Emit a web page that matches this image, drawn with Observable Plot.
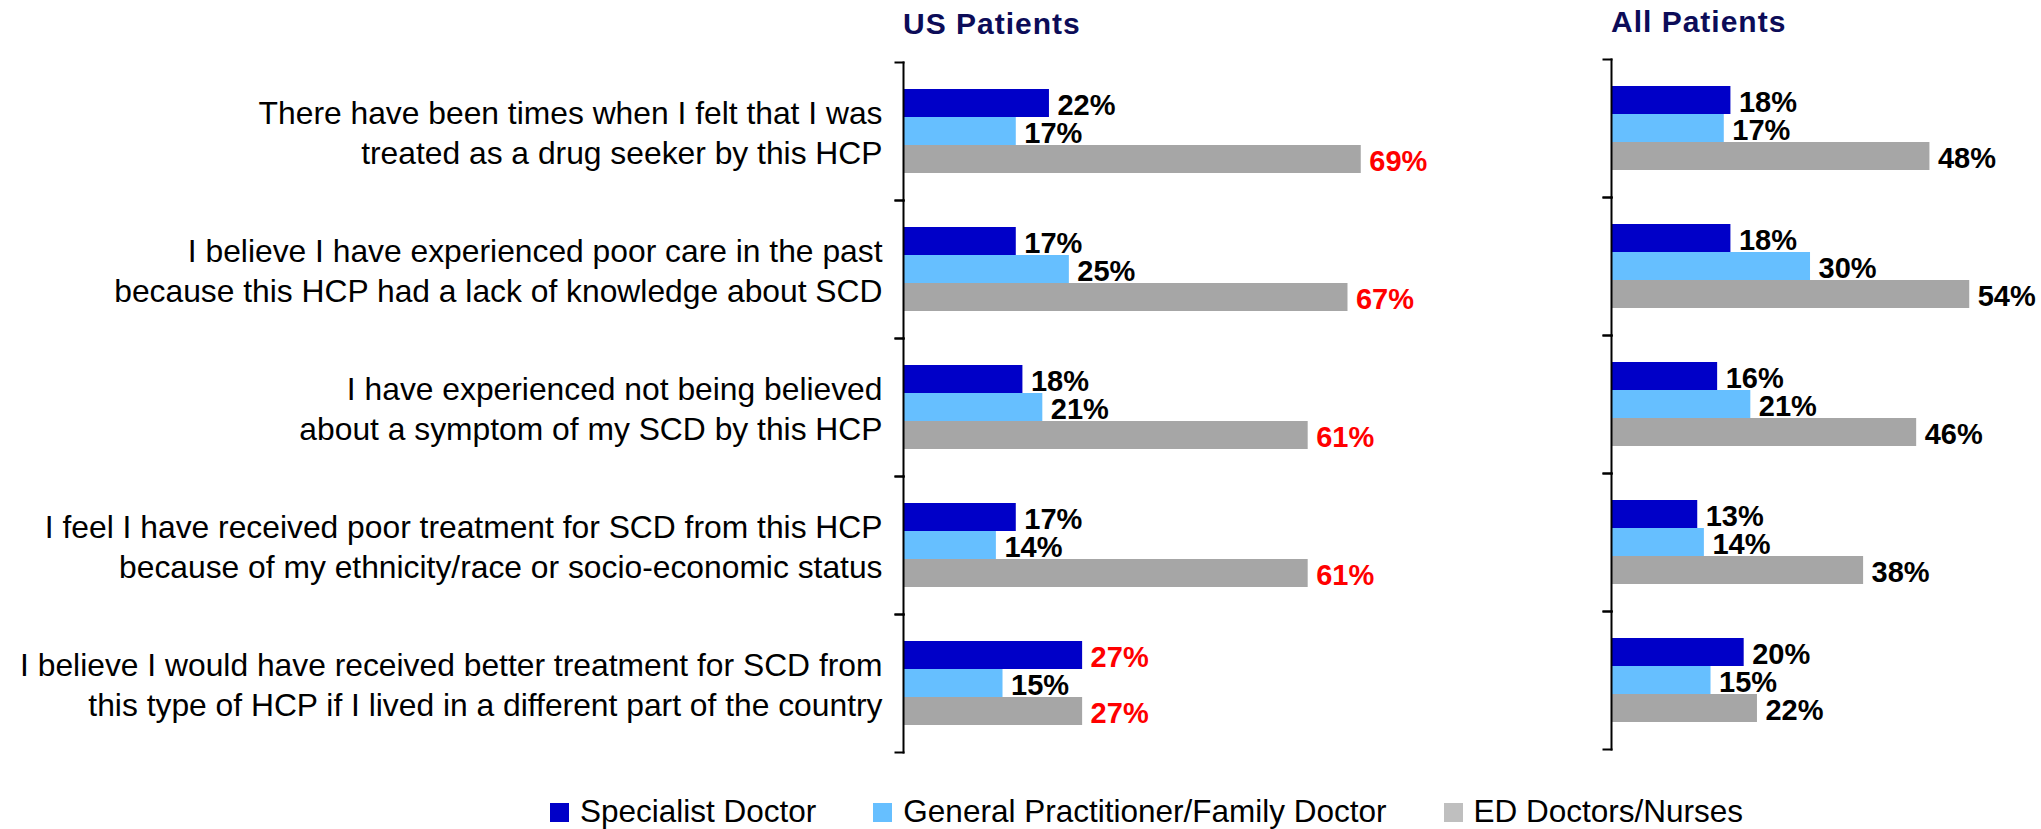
<!DOCTYPE html>
<html><head><meta charset="utf-8">
<script src="https://cdn.jsdelivr.net/npm/d3@7"></script>
<script src="https://cdn.jsdelivr.net/npm/@observablehq/plot@0.6"></script>
<style>
body{margin:0;background:#fff;font-family:"Liberation Sans",Arial,sans-serif;}
#wrap{position:relative;width:2041px;height:829px;overflow:hidden;background:#fff;}
.title{position:absolute;font-weight:bold;font-size:30px;letter-spacing:1px;color:#0C0C58;line-height:30px;white-space:nowrap;}
.chart{position:absolute;}
#legend{position:absolute;left:550px;top:796px;display:flex;gap:57px;font-size:31.5px;line-height:1;white-space:nowrap;color:#000;}
.sw{display:inline-block;width:19px;height:19px;margin-right:11px;vertical-align:baseline;}
</style></head>
<body>
<div id="wrap">
  <div class="title" style="left:903px;top:9px;">US Patients</div>
  <div class="title" style="left:1611px;top:7px;">All Patients</div>
  <div class="chart" id="c1" style="left:0;top:0;"></div>
  <div class="chart" id="c2" style="left:1591px;top:-3px;"></div>
  <div id="legend"></div>
</div>
<script>
const categories = [
  "There have been times when I felt that I was\ntreated as a drug seeker by this HCP",
  "I believe I have experienced poor care in the past\nbecause this HCP had a lack of knowledge about SCD",
  "I have experienced not being believed\nabout a symptom of my SCD by this HCP",
  "I feel I have received poor treatment for SCD from this HCP\nbecause of my ethnicity/race or socio-economic status",
  "I believe I would have received better treatment for SCD from\nthis type of HCP if I lived in a different part of the country"
];
const series = ["Specialist Doctor", "General Practitioner/Family Doctor", "ED Doctors/Nurses"];
const colors = ["#0000C8", "#66BFFF", "#A6A6A6"];
const legendColors = ["#0000C8", "#66BFFF", "#BFBFBF"];

const usSpecialist = [22, 17, 18, 17, 27];
const usGP         = [17, 25, 21, 14, 15];
const usED         = [69, 67, 61, 61, 27];

const allSpecialist = [18, 18, 16, 13, 20];
const allGP         = [17, 30, 21, 14, 15];
const allED         = [48, 54, 46, 38, 22];

const FONT = '"Liberation Sans", Arial, sans-serif';
const PX_PER_PCT = 544 / 82;

function buildRows(cols, highlightMax) {
  const rows = [];
  categories.forEach((c, i) => {
    const vals = cols.map(col => col[i]);
    const mx = d3.max(vals);
    series.forEach((s, j) => {
      rows.push({cat: c, series: s, value: vals[j], hi: highlightMax && vals[j] === mx});
    });
  });
  return rows;
}

function makeChart(rows, {width, marginLeft, marginRight, showLabels}) {
  const innerW = width - marginLeft - marginRight;
  const xmax = innerW / PX_PER_PCT;
  const frameTick = {stroke: "#000", strokeWidth: 2, insetLeft: -8, insetRight: innerW};
  return Plot.plot({
    width, height: 780,
    marginTop: 60, marginBottom: 26, marginLeft, marginRight,
    x: {domain: [0, xmax], axis: null},
    y: {domain: series, axis: null, paddingInner: 0, paddingOuter: 0.893},
    fy: {domain: categories, padding: 0, axis: null},
    color: {domain: series, range: colors},
    style: {fontFamily: FONT, background: "transparent", overflow: "visible", color: "#000"},
    marks: [
      Plot.barX(rows, {x: "value", y: "series", fy: "cat", fill: "series"}),
      Plot.text(rows.filter(d => !d.hi), {x: "value", y: "series", fy: "cat", text: d => d.value + "%",
        dx: 8, dy: 2, textAnchor: "start", fontWeight: "bold", fontSize: 29, fill: "#000"}),
      Plot.text(rows.filter(d => d.hi), {x: "value", y: "series", fy: "cat", text: d => d.value + "%",
        dx: 8, dy: 2, textAnchor: "start", fontWeight: "bold", fontSize: 29, fill: "#FF0000"}),
      Plot.frame({anchor: "left", stroke: "#000", strokeWidth: 2}),
      Plot.frame({anchor: "top", ...frameTick}),
      Plot.frame({anchor: "bottom", ...frameTick}),
      showLabels ? Plot.axisFy({anchor: "left", tickSize: 0, tickPadding: 21, fontSize: 31.8,
        lineHeight: 1.25, fill: "#000", label: null}) : null
    ]
  });
}

const c1 = makeChart(buildRows([usSpecialist, usGP, usED], true),
  {width: 1450, marginLeft: 903, marginRight: 3, showLabels: true});
const c2 = makeChart(buildRows([allSpecialist, allGP, allED], false),
  {width: 450, marginLeft: 20, marginRight: 0, showLabels: false});
document.getElementById("c1").appendChild(c1);
document.getElementById("c2").appendChild(c2);

const legend = document.getElementById("legend");
series.forEach((s, i) => {
  const item = document.createElement("div");
  const sw = document.createElement("span");
  sw.className = "sw";
  sw.style.background = legendColors[i];
  item.appendChild(sw);
  item.appendChild(document.createTextNode(s));
  legend.appendChild(item);
});
</script>
</body></html>
